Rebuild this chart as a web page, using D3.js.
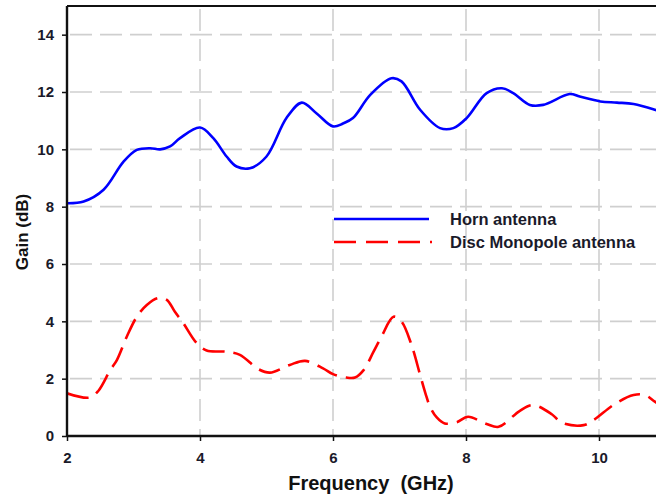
<!DOCTYPE html>
<html>
<head>
<meta charset="utf-8">
<script src="https://cdn.jsdelivr.net/npm/d3@7"></script>
<style>
  html, body { margin: 0; padding: 0; background: #fff; overflow: hidden; }
  svg { display: block; font-family: Arial, "Liberation Sans", sans-serif; }
</style>
</head>
<body>
<svg id="chart" width="656" height="497"></svg>
<script>
// ---- Data ----
const hornFreq = [2.0, 2.25, 2.55, 2.85, 3.05, 3.25, 3.4, 3.55, 3.7, 4.0, 4.2, 4.4, 4.55, 4.75, 5.0, 5.3, 5.53, 5.75, 6.0, 6.15, 6.3, 6.56, 6.88, 7.03, 7.31, 7.61, 7.81, 8.01, 8.31, 8.54, 8.71, 8.96, 9.16, 9.56, 9.71, 10.02, 10.27, 10.52, 10.84, 11.0];
const hornGain = [8.12, 8.18, 8.59, 9.57, 9.98, 10.04, 10.0, 10.1, 10.39, 10.76, 10.39, 9.75, 9.4, 9.34, 9.75, 11.09, 11.63, 11.26, 10.8, 10.9, 11.09, 11.9, 12.48, 12.37, 11.38, 10.74, 10.74, 11.09, 11.96, 12.13, 11.96, 11.55, 11.55, 11.93, 11.84, 11.67, 11.63, 11.58, 11.38, 11.25];
const discFreq = [2.0, 2.34, 2.47, 2.65, 2.75, 2.9, 3.05, 3.2, 3.37, 3.5, 3.62, 3.75, 3.95, 4.1, 4.4, 4.6, 4.88, 5.05, 5.35, 5.58, 5.85, 6.0, 6.2, 6.33, 6.46, 6.61, 6.73, 6.91, 7.03, 7.18, 7.31, 7.39, 7.46, 7.56, 7.68, 7.86, 8.03, 8.31, 8.49, 8.81, 9.01, 9.29, 9.44, 9.77, 9.92, 10.24, 10.52, 10.69, 10.84, 11.0];
const discGain = [1.49, 1.34, 1.57, 2.3, 2.65, 3.47, 4.16, 4.57, 4.81, 4.75, 4.34, 3.93, 3.24, 2.98, 2.94, 2.83, 2.33, 2.21, 2.48, 2.62, 2.36, 2.16, 2.04, 2.04, 2.3, 2.94, 3.47, 4.16, 3.99, 3.18, 2.13, 1.49, 1.02, 0.65, 0.44, 0.48, 0.67, 0.42, 0.32, 0.88, 1.08, 0.76, 0.46, 0.38, 0.56, 1.12, 1.43, 1.43, 1.2, 0.95];
const xTicks = [2, 4, 6, 8, 10];
const yTicks = [0, 2, 4, 6, 8, 10, 12, 14];
const seriesNames = ["Horn antenna", "Disc Monopole antenna"];

// ---- Layout ----
const svg = d3.select("#chart");
const x = d3.scaleLinear().domain([2, 11]).range([67, 665.5]);
const y = d3.scaleLinear().domain([0, 15]).range([436, 6]);

const gridColor = "#cfcfcf";
// horizontal grid
svg.append("g").selectAll("line").data(yTicks.filter(d => d > 0)).join("line")
  .attr("x1", x(2)).attr("x2", x(11))
  .attr("y1", d => y(d)).attr("y2", d => y(d))
  .attr("stroke", gridColor).attr("stroke-width", 1.6)
  .attr("stroke-dasharray", "22,8").attr("stroke-dashoffset", -3);
// vertical grid
svg.append("g").selectAll("line").data(xTicks.filter(d => d > 2)).join("line")
  .attr("x1", d => x(d)).attr("x2", d => x(d))
  .attr("y1", y(15)).attr("y2", y(0))
  .attr("stroke", gridColor).attr("stroke-width", 1.6)
  .attr("stroke-dasharray", "22,8").attr("stroke-dashoffset", -3);

// frame top
svg.append("line").attr("x1", x(2)).attr("x2", x(11)).attr("y1", y(15)).attr("y2", y(15))
  .attr("stroke", "#111").attr("stroke-width", 2);

// lines
const line = d3.line().x(d => x(d[0])).y(d => y(d[1])).curve(d3.curveCatmullRom.alpha(0.5));
svg.append("clipPath").attr("id", "clip").append("rect")
  .attr("x", x(2)).attr("y", y(15)).attr("width", x(11) - x(2)).attr("height", y(0) - y(15));

svg.append("path").datum(hornFreq.map((f, i) => [f, hornGain[i]]))
  .attr("d", line).attr("fill", "none").attr("stroke", "#0000ff").attr("stroke-width", 2.6)
  .attr("clip-path", "url(#clip)");
svg.append("path").datum(discFreq.map((f, i) => [f, discGain[i]]))
  .attr("d", line).attr("fill", "none").attr("stroke", "#ff0000").attr("stroke-width", 2.6)
  .attr("stroke-dasharray", "22,9").attr("clip-path", "url(#clip)");

// axes
const xAxis = d3.axisBottom(x).tickValues(xTicks).tickSize(5).tickPadding(11).tickFormat(d3.format("d"));
const yAxis = d3.axisLeft(y).tickValues(yTicks).tickSize(5).tickPadding(8).tickFormat(d3.format("d"));
const gx = svg.append("g").attr("transform", `translate(0,${y(0)})`).call(xAxis);
const gy = svg.append("g").attr("transform", `translate(${x(2)},0)`).call(yAxis);
[gx, gy].forEach(g => {
  g.select(".domain").attr("stroke", "#111").attr("stroke-width", 2.4);
  g.selectAll(".tick line").attr("stroke", "#111").attr("stroke-width", 1.5);
  g.selectAll(".tick text").attr("fill", "#1a1a2a").style("font-size", "15px").style("font-weight", "bold")
    .style("font-family", "Arial, 'Liberation Sans', sans-serif");
});
gx.select(".domain").attr("d", `M${x(2)},0H${x(11)}`);
gy.select(".domain").attr("d", `M0,${y(0)}V${y(15)}`);

// titles
svg.append("text").attr("x", 371).attr("y", 490).attr("text-anchor", "middle")
  .style("font-size", "20px").style("font-weight", "bold").attr("fill", "#111")
  .text("Frequency\u00a0\u00a0(GHz)");
svg.append("text").attr("transform", "translate(28,232) rotate(-90)").attr("text-anchor", "middle")
  .style("font-size", "17px").style("font-weight", "bold").attr("fill", "#111").text("Gain (dB)");

// legend
const legend = svg.append("g");
const legY = [219, 242];
legend.append("line").attr("x1", 334).attr("x2", 429).attr("y1", legY[0]).attr("y2", legY[0])
  .attr("stroke", "#0000ff").attr("stroke-width", 2.6);
legend.append("line").attr("x1", 334).attr("x2", 432).attr("y1", legY[1]).attr("y2", legY[1])
  .attr("stroke", "#ff0000").attr("stroke-width", 2.6).attr("stroke-dasharray", "22,10");
legend.selectAll("text").data(seriesNames).join("text")
  .attr("x", 450).attr("y", (d, i) => legY[i] + 6)
  .style("font-size", "16.5px").style("font-weight", "bold").attr("fill", "#1a1a2a").text(d => d);
</script>
</body>
</html>
